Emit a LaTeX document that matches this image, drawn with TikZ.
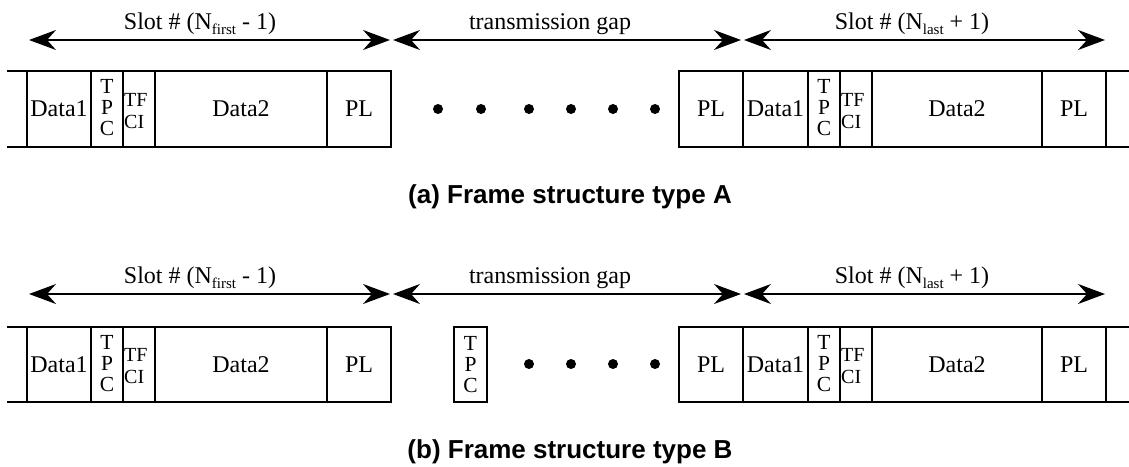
\documentclass[tikz,border=0pt]{standalone}
\usepackage{fontspec}
\setmainfont{Liberation Serif}
\newfontfamily\slotfont{Liberation Serif}
\newfontfamily\capfont{Liberation Sans}
\usetikzlibrary{arrows.meta,positioning}

\newcommand{\slotsub}[1]{\raisebox{-5pt}{\fontsize{15}{15}\selectfont #1}}

\tikzset{
    cell/.style={inner sep=0pt, font=\slotfont\fontsize{24}{24}\selectfont},
    stack/.style={inner sep=0pt, align=center, font=\slotfont\fontsize{21.5}{21}\selectfont},
    tfci/.style={inner sep=1pt, anchor=west, align=left, font=\slotfont\fontsize{20}{22}\selectfont},
    dot/.style={circle, fill, inner sep=0pt, minimum size=10pt},
    span/.style={line width=1.4pt, {Stealth[length=27pt, width=20pt, inset=9pt]}-{Stealth[length=27pt, width=20pt, inset=9pt]}},
    spanlabel/.style={anchor=base, inner sep=0pt, font=\slotfont\fontsize{24}{24}\selectfont},
    thinline/.style={line width=1.2pt},
    thickline/.style={line width=2.6pt},
    caption/.style={font=\capfont\bfseries\fontsize{26}{26}\selectfont}
}

\begin{document}
\begin{tikzpicture}[x=1pt, y=-1pt]
            \useasboundingbox (0,0) rectangle (1129,466);

            % (a) Spans
            \coordinate(firstl-a) at (29,40);
            \coordinate(firstr-a) at (390,40);
            \coordinate(gapl-a) at (393,40);
            \coordinate(gapr-a) at (741,40);
            \coordinate(lastl-a) at (744,40);
            \coordinate(lastr-a) at (1105,40);
            \node(slotfirst-a) [spanlabel] at (200,29) {Slot \# (N\slotsub{first} - 1)};
            \node(gap-a) [spanlabel] at (550,29) {transmission gap};
            \node(slotlast-a) [spanlabel] at (912,29) {Slot \# (N\slotsub{last} + 1)};

            % (a) First slot
            \node(data1-a) [cell] at (59,109) {Data1};
            \node(tpc-a) [stack] at (107,108) {T\\P\\C};
            \node(tfci-a) [tfci] at (123,111) {TF\\CI};
            \node(data2-a) [cell] at (241,109) {Data2};
            \node(pl-a) [cell] at (359,109) {PL};

            % (a) Gap
            \node(dot1-a) [dot] at (438,109) {};
            \node(dot2-a) [dot] at (481,109) {};
            \node(dot3-a) [dot] at (529,109) {};
            \node(dot4-a) [dot] at (571,109) {};
            \node(dot5-a) [dot] at (613,109) {};
            \node(dot6-a) [dot] at (655,109) {};

            % (a) Last slot
            \node(plr-a) [cell] at (711,109) {PL};
            \node(data1r-a) [cell] at (775.5,109) {Data1};
            \node(tpcr-a) [stack] at (824,108) {T\\P\\C};
            \node(tfcir-a) [tfci] at (840,111) {TF\\CI};
            \node(data2r-a) [cell] at (957,109) {Data2};
            \node(plrr-a) [cell] at (1074,109) {PL};

            \node(cap-a) [caption] at (570,197) {(a) Frame structure type A};

            % (b) Spans
            \coordinate(firstl-b) at (29,294);
            \coordinate(firstr-b) at (390,294);
            \coordinate(gapl-b) at (393,294);
            \coordinate(gapr-b) at (741,294);
            \coordinate(lastl-b) at (744,294);
            \coordinate(lastr-b) at (1105,294);
            \node(slotfirst-b) [spanlabel] at (200,283) {Slot \# (N\slotsub{first} - 1)};
            \node(gap-b) [spanlabel] at (550,283) {transmission gap};
            \node(slotlast-b) [spanlabel] at (912,283) {Slot \# (N\slotsub{last} + 1)};

            % (b) First slot
            \node(data1-b) [cell] at (59,364.5) {Data1};
            \node(tpc-b) [stack] at (107,363.5) {T\\P\\C};
            \node(tfci-b) [tfci] at (123,366.5) {TF\\CI};
            \node(data2-b) [cell] at (241,364.5) {Data2};
            \node(pl-b) [cell] at (359,364.5) {PL};

            % (b) Gap
            \node(tpcgap-b) [stack, draw, thickline, minimum width=33pt, minimum height=75pt] at (470.5,364.5) {T\\P\\C};
            \node(dot1-b) [dot] at (529,364) {};
            \node(dot2-b) [dot] at (571,364) {};
            \node(dot3-b) [dot] at (613,364) {};
            \node(dot4-b) [dot] at (655,364) {};

            % (b) Last slot
            \node(plr-b) [cell] at (711,364.5) {PL};
            \node(data1r-b) [cell] at (775.5,364.5) {Data1};
            \node(tpcr-b) [stack] at (824,363.5) {T\\P\\C};
            \node(tfcir-b) [tfci] at (840,366.5) {TF\\CI};
            \node(data2r-b) [cell] at (957,364.5) {Data2};
            \node(plrr-b) [cell] at (1074,364.5) {PL};

            \node(cap-b) [caption] at (570,452) {(b) Frame structure type B};

            % Draw Arrows
            \draw[span] (firstl-a) -- (firstr-a);
            \draw[span] (gapl-a) -- (gapr-a);
            \draw[span] (lastl-a) -- (lastr-a);
            \draw[span] (firstl-b) -- (firstr-b);
            \draw[span] (gapl-b) -- (gapr-b);
            \draw[span] (lastl-b) -- (lastr-b);

            % Draw Frames
            \draw[thickline] (7,71) -- (391,71) -- (391,147) -- (7,147);
            \draw[thinline] (27,71) -- (27,147) (91,71) -- (91,147) (123,71) -- (123,147)
            (155,71) -- (155,147) (327,71) -- (327,147);
            \draw[thickline] (1129,71) -- (679,71) -- (679,147) -- (1129,147) (1106,71) -- (1106,147);
            \draw[thinline] (743,71) -- (743,147) (808,71) -- (808,147) (840,71) -- (840,147)
            (872,71) -- (872,147) (1042,71) -- (1042,147);

            \draw[thickline] (7,327) -- (391,327) -- (391,402) -- (7,402);
            \draw[thinline] (27,327) -- (27,402) (91,327) -- (91,402) (123,327) -- (123,402)
            (155,327) -- (155,402) (327,327) -- (327,402);
            \draw[thickline] (1129,327) -- (679,327) -- (679,402) -- (1129,402) (1106,327) -- (1106,402);
            \draw[thinline] (743,327) -- (743,402) (808,327) -- (808,402) (840,327) -- (840,402)
            (872,327) -- (872,402) (1042,327) -- (1042,402);

        \end{tikzpicture}
\end{document}
